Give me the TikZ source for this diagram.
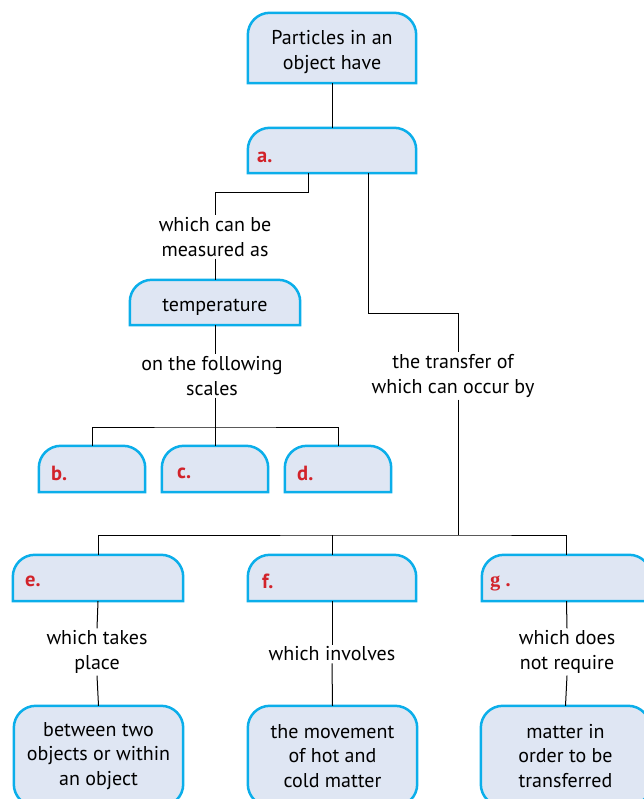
\documentclass[tikz,border=0pt]{standalone}
\usepackage{fontspec}
\setmainfont{PT Sans}
\newfontfamily\gfont{Liberation Serif}
\usetikzlibrary{backgrounds}
\definecolor{boxfill}{HTML}{DFE6F3}
\definecolor{boxline}{HTML}{0BAEEA}
\definecolor{labred}{HTML}{D2232A}
\tikzset{
  x=1pt, y=-1pt,
  every node/.style={font=\fontsize{20}{24.5}\selectfont},
  cbox/.style={draw=none, inner sep=0pt, align=center},
  txt/.style={inner sep=2pt, align=center},
  lab/.style={anchor=west, inner sep=0pt, text=labred, font=\fontsize{20.5}{24}\selectfont\bfseries},
  conn/.style={draw=black, line width=1pt},
  boxout/.style={draw=boxline, fill=boxfill, line width=2.5pt}
}
\begin{document}
\begin{tikzpicture}
\clip (0,0) rectangle (644,799);
% boxes
\node[cbox, minimum width=168, minimum height=70] (top) at (332,48) {};
\node[cbox, minimum width=168, minimum height=45] (a) at (332,150.5) {};
\node[cbox, minimum width=170, minimum height=45] (temp) at (215,302.5) {};
\node[cbox, minimum width=106, minimum height=46] (b) at (92,469) {};
\node[cbox, minimum width=106, minimum height=46] (c) at (215,469) {};
\node[cbox, minimum width=106, minimum height=46] (d) at (338,469) {};
\node[cbox, minimum width=170, minimum height=46] (e) at (98,578) {};
\node[cbox, minimum width=168, minimum height=46] (f) at (332,578) {};
\node[cbox, minimum width=169, minimum height=46] (g) at (566.5,578) {};
\node[cbox, minimum width=169, minimum height=100] (be) at (98.5,756) {between two\\objects or within\\an object};
\node[cbox, minimum width=169, minimum height=100] (bf) at (332.5,756) {the movement\\of hot and\\cold matter};
\node[cbox, minimum width=169, minimum height=100] (bg) at (565.5,756) {matter in\\order to be\\transferred};
% box texts
\node[cbox] (toptxt) at (332,52) {Particles in an\\object have};
\node[cbox] (temptxt) at (215,307) {temperature};
% labels
\node[lab] (la) at (257,157) {a.};
\node[lab] (lb) at (51,473) {b.};
\node[lab] (lc) at (177,473) {c.};
\node[lab] (ld) at (297,473) {d.};
\node[lab] (le) at (25,581) {e.};
\node[lab] (lf) at (262,581) {f.};
\node[lab] (lg) at (490,583) {{\gfont g} .};
% text nodes
\node[txt] (t1) at (215,237) {which can be\\measured as};
\node[txt] (t2) at (212,376) {on the following\\scales};
\node[txt] (t3) at (453,376) {the transfer of\\which can occur by};
\node[txt] (t4) at (97,652) {which takes\\place};
\node[txt] (t5) at (332,654) {which involves};
\node[txt] (t6) at (567,652) {which does\\not require};
% box outlines
\begin{scope}[on background layer]
\foreach \n in {top,a,temp,b,c,d,e,f,g}
  \draw[boxout] (\n.south west) [rounded corners=22] -- (\n.north west) -- (\n.north east) [sharp corners] -- (\n.south east) -- cycle;
\foreach \n in {be,bf,bg}
  \draw[boxout, rounded corners=22] (\n.south west) rectangle (\n.north east);
\end{scope}
% connectors
\coordinate (a1) at (308,193);
\coordinate (a2) at (368,313);
\coordinate (bus1) at (215,427);
\coordinate (bus2) at (458,535);
\draw[conn] (top.south) -- (a.north);
\draw[conn] (a.south -| a1) -- (a1) -| (t1.north);
\draw[conn] (t1.south) -- (temp.north);
\draw[conn] (temp.south) -- (temp.south |- t2.north);
\draw[conn] (t2.south -| c.north) -- (c.north);
\draw[conn] (b.north) |- (bus1) -| (d.north);
\draw[conn] (a.south -| a2) -- (a2) -| (t3.north -| bus2);
\draw[conn] (t3.south -| bus2) -- (bus2);
\draw[conn] (e.north) |- (bus2) -| (g.north);
\draw[conn] (f.north) -- (f.north |- bus2);
\draw[conn] (e.south) -- (t4.north);
\draw[conn] (t4.south) -- (be.north);
\draw[conn] (f.south) -- (t5.north);
\draw[conn] (t5.south) -- (bf.north);
\draw[conn] (g.south) -- (t6.north);
\draw[conn] (t6.south) -- (bg.north);
\end{tikzpicture}
\end{document}
